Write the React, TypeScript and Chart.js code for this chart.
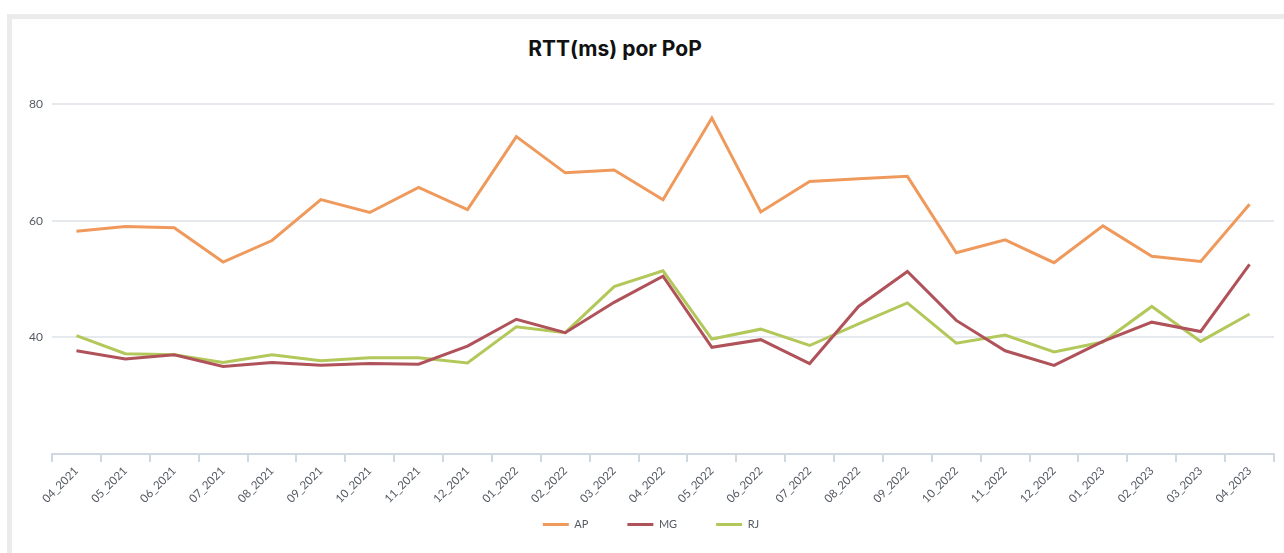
import React, { useEffect, useRef } from "react";
import { Chart, registerables } from "chart.js";

Chart.register(...registerables);

const categories = [
  "04_2021", "05_2021", "06_2021", "07_2021", "08_2021", "09_2021", "10_2021", "11_2021", "12_2021",
  "01_2022", "02_2022", "03_2022", "04_2022", "05_2022", "06_2022", "07_2022", "08_2022", "09_2022",
  "10_2022", "11_2022", "12_2022", "01_2023", "02_2023", "03_2023", "04_2023",
];

const apValues = [58.2, 59.0, 58.8, 52.9, 56.6, 63.6, 61.4, 65.7, 61.9, 74.4, 68.2, 68.7, 63.6, 77.6, 61.5, 66.7, 67.2, 67.6, 54.5, 56.7, 52.8, 59.1, 53.9, 53.0, 62.8];
const mgValues = [37.7, 36.3, 37.0, 35.0, 35.7, 35.2, 35.5, 35.4, 38.5, 43.1, 40.8, 46.0, 50.5, 38.3, 39.6, 35.5, 45.3, 51.3, 42.9, 37.7, 35.2, 39.3, 42.6, 41.0, 52.5];
const rjValues = [40.3, 37.2, 37.0, 35.7, 37.0, 36.0, 36.5, 36.5, 35.6, 41.8, 40.8, 48.7, 51.4, 39.7, 41.4, 38.6, 42.3, 45.9, 39.0, 40.4, 37.5, 39.2, 45.3, 39.3, 44.0];

const seriesNames = ["AP", "MG", "RJ"];
const seriesColors = ["#ef9a5c", "#b0525a", "#b3c85a"];

const yMin = 20;
const yMax = 80;
const yStep = 20;

const TITLE = "RTT(ms) por PoP";
const FONT = "Lato, 'Open Sans', sans-serif";

// lets the rotated x labels draw below the (deliberately short) x-axis box,
// and nudges the legend row to the reference's horizontal position
const layoutTweak = {
  id: "layoutTweak",
  afterLayout(chart: any) {
    const x = chart.scales.x;
    if (x) x.bottom += 45;
    const lg = chart.legend;
    if (lg) {
      lg.left += 14;
      lg.right += 14;
    }
  },
};

export default function App() {
  const canvasRef = useRef<HTMLCanvasElement | null>(null);

  useEffect(() => {
    const canvas = canvasRef.current;
    if (!canvas) return;
    const seriesValues = [apValues, mgValues, rjValues];
    const chart = new Chart(canvas, {
      type: "line",
      data: {
        labels: categories,
        datasets: seriesNames.map((name, i) => ({
          label: name,
          data: seriesValues[i],
          borderColor: seriesColors[i],
          backgroundColor: seriesColors[i],
          borderWidth: 3,
          pointRadius: 0,
          pointHoverRadius: 0,
          tension: 0,
          fill: false,
        })),
      },
      plugins: [layoutTweak],
      options: {
        responsive: false,
        animation: false,
        devicePixelRatio: 1,
        layout: { padding: { top: 104, left: 0, right: 10, bottom: 13 } },
        plugins: {
          title: { display: false },
          tooltip: { enabled: false },
          legend: {
            position: "bottom",
            labels: {
              boxWidth: 26,
              boxHeight: 3,
              padding: 39,
              color: "#555a63",
              font: { family: FONT, size: 11 },
              generateLabels: (c: any) =>
                Chart.defaults.plugins.legend.labels
                  .generateLabels(c)
                  .map((it: any) => ({ ...it, lineWidth: 0 })),
            },
          },
        },
        scales: {
          x: {
            offset: true,
            afterFit: (s: any) => {
              s.height = 26;
            },
            grid: {
              offset: true,
              drawOnChartArea: false,
              drawTicks: true,
              tickLength: 8,
              color: "#d0d8e2",
              lineWidth: 2,
            },
            border: { display: true, color: "#d0d8e2", width: 2 },
            ticks: {
              autoSkip: false,
              minRotation: 45,
              maxRotation: 45,
              padding: 2,
              color: "#555a63",
              font: { family: FONT, size: 11.5 },
            },
          },
          y: {
            min: yMin,
            max: yMax,
            afterFit: (s: any) => {
              s.width = 52;
            },
            border: { display: false },
            grid: {
              drawTicks: false,
              lineWidth: 2,
              color: (ctx: any) => (ctx.tick && ctx.tick.value === yMin ? "rgba(0,0,0,0)" : "#e6eaef"),
            },
            ticks: {
              stepSize: yStep,
              padding: 9,
              color: "#555a63",
              font: { family: FONT, size: 12 },
              callback: (v: any) => (v === yMin ? "" : String(v)),
            },
          },
        },
      },
    });
    return () => chart.destroy();
  }, []);

  return (
    <div
      style={{
        position: "fixed",
        left: 0,
        top: 0,
        width: 1284,
        height: 553,
        background: "#ffffff",
        overflow: "hidden",
      }}
    >
      <div
        style={{
          position: "absolute",
          left: 415,
          width: 400,
          top: 36,
          textAlign: "center",
          fontFamily: "Inter, Lato, sans-serif",
          fontWeight: 700,
          fontSize: 21,
          lineHeight: "25px",
          color: "#111111",
        }}
      >
        {TITLE}
      </div>
      <div
        style={{
          position: "absolute",
          left: 7,
          top: 14,
          width: 1300,
          height: 600,
          borderLeft: "5px solid #ebebeb",
          borderTop: "5px solid #ebebeb",
          boxSizing: "border-box",
        }}
      />
      <canvas
        ref={canvasRef}
        width={1284}
        height={553}
        style={{ position: "absolute", left: 0, top: 0, width: 1284, height: 553 }}
      />
    </div>
  );
}
